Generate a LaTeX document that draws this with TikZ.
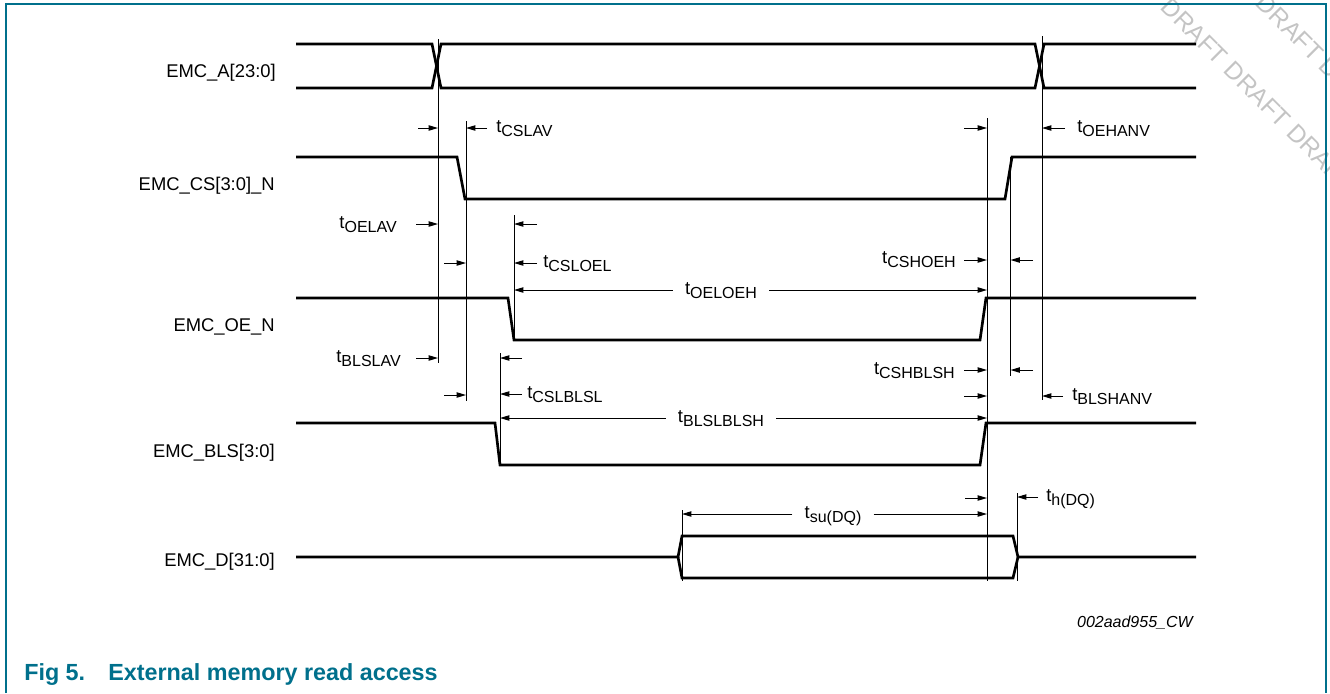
\documentclass[tikz,border=0pt]{standalone}
\usepackage{fontspec}
\setmainfont{Liberation Sans}
\usetikzlibrary{arrows.meta}
\definecolor{nxpteal}{RGB}{0,112,140}
\definecolor{wmgray}{RGB}{196,196,196}
% timing symbol: t with a lowered, smaller subscript
\newcommand{\tsub}[1]{t\raisebox{-3.3pt}{\fontsize{12}{12}\selectfont #1}}

\begin{document}
\begin{tikzpicture}[x=0.75pt,y=-0.75pt,
  sig/.style={line width=2pt, line join=miter},
  ref/.style={line width=0.75pt},
  arr/.style={line width=0.75pt,-{Triangle[length=7pt,width=4pt]}},
  lab/.style={font=\fontsize{13.8}{16}\selectfont, inner sep=0pt},
  tl/.style={font=\fontsize{13.8}{16}\selectfont, inner sep=0pt},
  wm/.style={rotate=-45, text=wmgray, font=\fontsize{18.5}{18.5}\selectfont, inner sep=0pt},
  frame/.style={draw=nxpteal, line width=1.1pt},
]
\useasboundingbox (0,0) rectangle (1330,693);

% draft watermark in the upper right corner, two diagonal rows
\begin{scope}
  \clip (0,0) rectangle (1330,693);
  \node[wm] (wmlow) at (1226,63) {DRAFT DRAFT DRAFT DRAFT};
  \node[wm] (wmup)  at (1290,28) {DRAFT DRAFT DRAFT};
\end{scope}

% figure frame (open at the bottom)
\draw[frame] (6,693) -- (6,4) -- (1326,4) -- (1326,693);

% signal names
\node[lab, anchor=base east] (nA)   at (276,77)  {EMC\_A[23:0]};
\node[lab, anchor=base east] (nCS)  at (275,190) {EMC\_CS[3:0]\_N};
\node[lab, anchor=base east] (nOE)  at (275,331) {EMC\_OE\_N};
\node[lab, anchor=base east] (nBLS) at (275,457) {EMC\_BLS[3:0]};
\node[lab, anchor=base east] (nD)   at (275,566) {EMC\_D[31:0]};

% address bus
\draw[sig] (296,44) -- (432,44) -- (441,88) -- (1035,88) -- (1044,44) -- (1196,44);
\draw[sig] (296,88) -- (432,88) -- (441,44) -- (1035,44) -- (1044,88) -- (1196,88);
% chip select
\draw[sig] (296,157) -- (457,157) -- (465,199) -- (1005,199) -- (1012,157) -- (1196,157);
% output enable
\draw[sig] (296,298) -- (508,298) -- (514,340) -- (980,340) -- (986,298) -- (1196,298);
% byte lane select
\draw[sig] (296,423) -- (495,423) -- (500,465) -- (980,465) -- (986,423) -- (1196,423);
% data bus
\draw[sig] (296,557) -- (678,557) -- (682,536) -- (1013,536) -- (1018,557) -- (1196,557);
\draw[sig] (678,557) -- (682,578) -- (1013,578) -- (1018,557);

% reference lines
\draw[ref] (438,39) -- (438,363);
\draw[ref] (466,121) -- (466,401);
\draw[ref] (514,215) -- (514,340);
\draw[ref] (500,353) -- (500,465);
\draw[ref] (987,118) -- (987,581);
\draw[ref] (1010.5,157) -- (1010.5,376);
\draw[ref] (1042,36) -- (1042,400);
\draw[ref] (682,510) -- (682,581);
\draw[ref] (1017,493) -- (1017,581);

% single-sided timing arrows
\draw[arr] (418,128) -- (438,128);
\draw[arr] (487,128) -- (466,128);
\draw[arr] (964,128) -- (987,128);
\draw[arr] (1065,128) -- (1042,128);
\draw[arr] (416,224) -- (438,224);
\draw[arr] (537,224) -- (514,224);
\draw[arr] (444,263) -- (466,263);
\draw[arr] (537,263) -- (514,263);
\draw[arr] (964,260) -- (987,260);
\draw[arr] (1033,260) -- (1010.5,260);
\draw[arr] (416,358) -- (438,358);
\draw[arr] (522,358) -- (500,358);
\draw[arr] (964,370) -- (987,370);
\draw[arr] (1033,370) -- (1010.5,370);
\draw[arr] (444,395) -- (466,395);
\draw[arr] (522,394) -- (500,394);
\draw[arr] (964,396) -- (987,396);
\draw[arr] (1063,396) -- (1042,396);
\draw[arr] (965,498) -- (987,498);
\draw[arr] (1038,497) -- (1017,497);

% timing labels
\node[tl, anchor=base west] (tCSLAV)   at (496,132)  {\tsub{CSLAV}};
\node[tl, anchor=base west] (tOEHANV)  at (1077,132) {\tsub{OEHANV}};
\node[tl, anchor=base east] (tOELAV)   at (397,228)  {\tsub{OELAV}};
\node[tl, anchor=base west] (tCSLOEL)  at (543,267)  {\tsub{CSLOEL}};
\node[tl, anchor=base east] (tCSHOEH)  at (956,263)  {\tsub{CSHOEH}};
\node[tl, anchor=base east] (tBLSLAV)  at (401,362)  {\tsub{BLSLAV}};
\node[tl, anchor=base east] (tCSHBLSH) at (955,374)  {\tsub{CSHBLSH}};
\node[tl, anchor=base west] (tCSLBLSL) at (527,398)  {\tsub{CSLBLSL}};
\node[tl, anchor=base west] (tBLSHANV) at (1072,400) {\tsub{BLSHANV}};
\node[tl, anchor=base west] (thDQ)     at (1046,501) {\tsub{h(DQ)}};

% two-sided timing arrows with centred labels
\node[tl, anchor=base] (tOELOEH) at (721,294) {\tsub{OELOEH}};
\draw[arr] ([xshift=-9pt,yshift=3pt]tOELOEH.base west) -- (514,290);
\draw[arr] ([xshift=9pt,yshift=3pt]tOELOEH.base east) -- (987,290);

\node[tl, anchor=base] (tBLSLBLSH) at (721,422) {\tsub{BLSLBLSH}};
\draw[arr] ([xshift=-9pt,yshift=3pt]tBLSLBLSH.base west) -- (500,418);
\draw[arr] ([xshift=9pt,yshift=3pt]tBLSLBLSH.base east) -- (987,418);

\node[tl, anchor=base] (tsuDQ) at (833,518) {\tsub{su(DQ)}};
\draw[arr] ([xshift=-9pt,yshift=3pt]tsuDQ.base west) -- (682,514);
\draw[arr] ([xshift=9pt,yshift=3pt]tsuDQ.base east) -- (987,514);

% drawing number and caption
\node[anchor=base east, inner sep=0pt, font=\fontsize{12}{14}\selectfont\itshape] (dwg) at (1193,627) {002aad955\_CW};
\node[anchor=base west, inner sep=0pt, text=nxpteal, font=\fontsize{17.5}{20}\selectfont\bfseries] (fig) at (24,680) {Fig 5.};
\node[anchor=base west, inner sep=0pt, text=nxpteal, font=\fontsize{17.5}{20}\selectfont\bfseries] (cap) at (108,680) {External memory read access};
\end{tikzpicture}
\end{document}
